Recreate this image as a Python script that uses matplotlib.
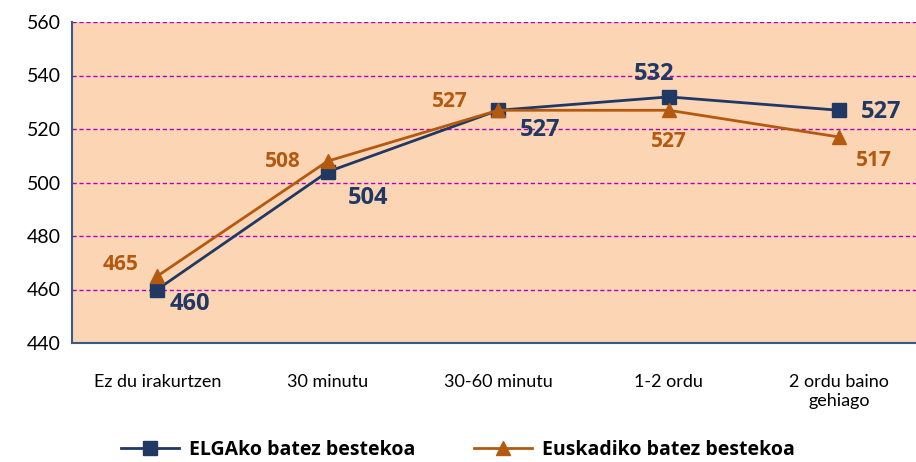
import matplotlib
matplotlib.use("Agg")
import matplotlib.pyplot as plt

categories = ["Ez du irakurtzen", "30 minutu", "30-60 minutu", "1-2 ordu", "2 ordu baino\ngehiago"]
elga = [460, 504, 527, 532, 527]
euskadi = [465, 508, 527, 527, 517]
series_names = ["ELGAko batez bestekoa", "Euskadiko batez bestekoa"]
yticks = [440, 460, 480, 500, 520, 540, 560]

elga_offsets = [(33, -14), (40, -26), (42, -20), (-15, 23), (42, -2)]
eusk_offsets = [(-37, 12), (-45, 0), (-48, 9), (0, -31), (35, -23)]

navy = "#1F3864"
brown = "#B35A10"
bg = "#FCD5B4"
grid = "#B000C0"

plt.rcParams['font.family'] = ['Lato', 'DejaVu Sans']
boldfam = ['Open Sans', 'DejaVu Sans']

fig = plt.figure(figsize=(9.16, 4.62), dpi=100)
ax = fig.add_axes([72/916, 1-343/462, 1-72/916, (343-22)/462])
ax.set_facecolor(bg)
x = list(range(len(categories)))

ax.plot(x, elga, color=navy, lw=2, marker='s', ms=10, zorder=3, label=series_names[0])
ax.plot(x, euskadi, color=brown, lw=2, marker='^', ms=10, zorder=3, label=series_names[1])

for xi, v, off in zip(x, elga, elga_offsets):
    ax.annotate(str(v), (xi, v), xytext=off, textcoords='offset pixels', ha='center', va='center',
                fontsize=17, fontweight='bold', color=navy, family=boldfam)
for xi, v, off in zip(x, euskadi, eusk_offsets):
    ax.annotate(str(v), (xi, v), xytext=off, textcoords='offset pixels', ha='center', va='center',
                fontsize=15, fontweight='bold', color=brown, family=boldfam)

ax.set_ylim(440, 560)
ax.set_yticks(yticks)
ax.set_xlim(-0.5, 4.45)
ax.set_xticks(x)
ax.set_xticklabels(categories, fontsize=13, linespacing=1.3)
ax.tick_params(axis='y', labelsize=14, length=0, pad=8)
ax.tick_params(axis='x', length=0, pad=22)
for y in yticks[1:]:
    ax.axhline(y, color=grid, lw=1, ls=(0, (3, 2)), zorder=1)
for s in ['top', 'right']:
    ax.spines[s].set_visible(False)
for s in ['left', 'bottom']:
    ax.spines[s].set_color('#3A5A8A')
    ax.spines[s].set_linewidth(1.5)

leg = fig.legend(loc='center', bbox_to_anchor=(0.5, 1-450/462), ncol=2, frameon=False,
                 prop={'weight': 'bold', 'size': 14, 'family': boldfam}, handlelength=3,
                 columnspacing=3, handletextpad=0.5)
fig.savefig("out.png", dpi=100)
